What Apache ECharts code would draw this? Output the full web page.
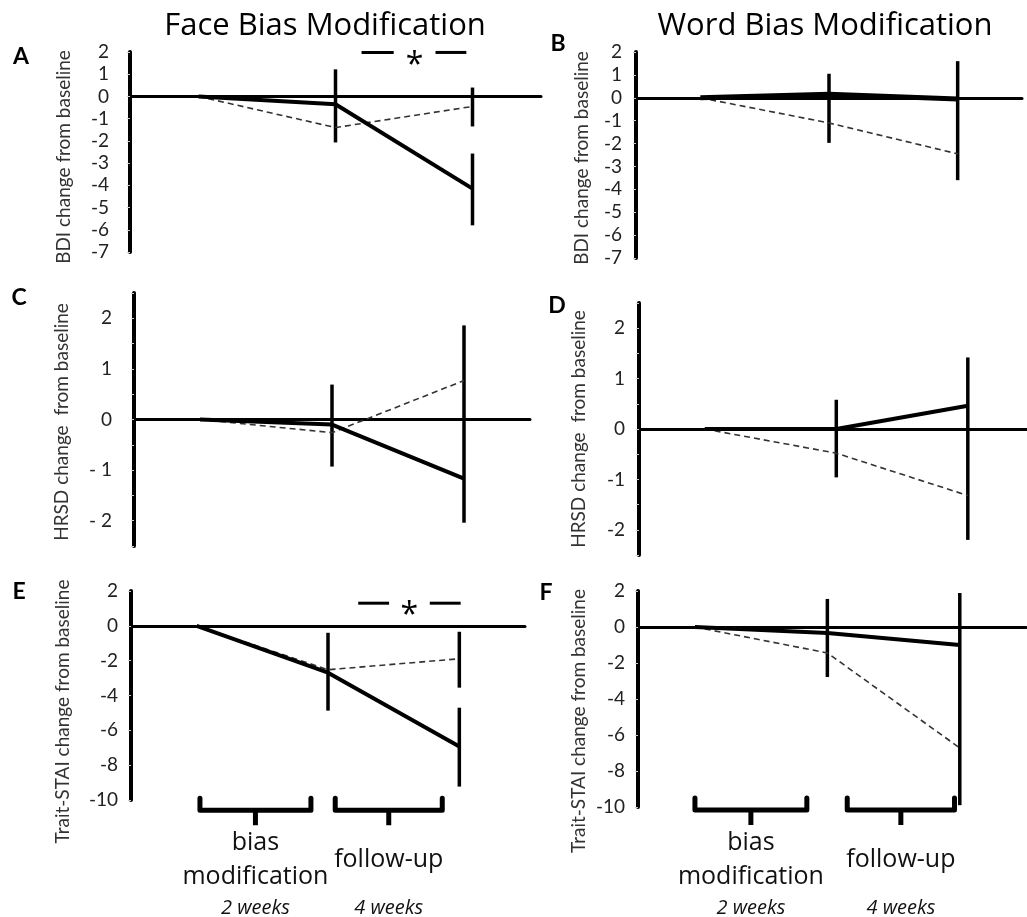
<!DOCTYPE html>
<html>
<head>
<meta charset="utf-8">
<script src="https://cdn.jsdelivr.net/npm/echarts@6/dist/echarts.min.js"></script>
<style>
  html, body { margin: 0; padding: 0; background: #fff; }
  #chart { width: 1027px; height: 917px; }
</style>
</head>
<body>
<div id="chart"></div>
<script>
// x positions: baseline, end of bias modification (2 weeks), end of follow-up (4 more weeks)
const timePoints = [0, 2, 4];

// A: BDI, face bias modification
const bdiFaceActive = [0, -0.35, -4.15];
const bdiFaceControl = [0, -1.4, -0.45];
const bdiFaceErr = [[2, -2.07, 1.22], [4, -1.35, 0.4], [4, -5.8, -2.57]];

// B: BDI, word bias modification
const bdiWordActive = [0, 0.15, -0.05];
const bdiWordControl = [0, -1.1, -2.45];
const bdiWordErr = [[2, -1.97, 1.05], [4, -3.6, 1.6]];

// C: HRSD, face
const hrsdFaceActive = [0, -0.1, -1.17];
const hrsdFaceControl = [0, -0.26, 0.77];
const hrsdFaceErr = [[2, -0.93, 0.69], [4, -2.04, 1.86]];

// D: HRSD, word
const hrsdWordActive = [0, 0, 0.46];
const hrsdWordControl = [0, -0.48, -1.32];
const hrsdWordErr = [[2, -0.96, 0.58], [4, -2.2, 1.42]];

// E: Trait-STAI, face
const staiFaceActive = [0, -2.69, -6.93];
const staiFaceControl = [0, -2.52, -1.89];
const staiFaceErr = [[2, -4.87, -0.4], [4, -3.55, -0.34], [4, -9.23, -4.7]];

// F: Trait-STAI, word
const staiWordActive = [0, -0.33, -1.0];
const staiWordControl = [0, -1.44, -6.72];
const staiWordErr = [[2, -2.78, 1.56], [4, -9.9, 1.89]];

// significance markers (dash spans in x, height in y)
const sigBdiFace = [[2.38, 2.85, 3.46, 3.91, 1.98]];
const sigStaiFace = [[2.46, 2.93, 3.55, 4.02, 1.3]];

// phase brackets under the bottom panels: [xStart, xEnd, yTop]
const phaseNames = ['bias\nmodification', 'follow-up'];
const phaseDurations = ['2 weeks', '4 weeks'];
const bracketsFace = [[0.05, 1.74, -9.9], [2.11, 3.74, -9.9]];
const bracketsWord = [[0, 1.69, -9.5], [2.3, 3.92, -9.5]];

const FONT = 'Lato, "Open Sans", sans-serif';
const FONT2 = '"Open Sans", Lato, sans-serif';

const panels = [
  { rect: { left: 130, top: 52, width: 411, height: 200 }, x: [-1, 5], y: [-7, 2], step: 1,
    name: 'BDI change from baseline', gap: 57, shift: 4, margin: 21, namePad: 10,
    active: bdiFaceActive, control: bdiFaceControl, err: bdiFaceErr, width: 4, sig: sigBdiFace },
  { rect: { left: 636, top: 52, width: 386, height: 206 }, x: [-1, 5], y: [-7, 2], step: 1,
    name: 'BDI change from baseline', gap: 45, shift: 7, margin: 14, namePad: 6,
    active: bdiWordActive, control: bdiWordControl, err: bdiWordErr, width: 5 },
  { rect: { left: 134, top: 293, width: 396, height: 253 }, x: [-1, 5], y: [-2.5, 2.5], step: 0.5,
    name: 'HRSD change  from baseline', gap: 63, shift: 11, margin: 22, namePad: 5, spaced: true,
    active: hrsdFaceActive, control: hrsdFaceControl, err: hrsdFaceErr, width: 4 },
  { rect: { left: 639, top: 303, width: 388, height: 252 }, x: [-1, 4.9], y: [-2.5, 2.5], step: 0.5,
    name: 'HRSD change  from baseline', gap: 51, shift: 11, margin: 14, namePad: 0,
    active: hrsdWordActive, control: hrsdWordControl, err: hrsdWordErr, width: 4 },
  { rect: { left: 131, top: 591, width: 394, height: 209 }, x: [-1, 5], y: [-10, 2], step: 2,
    name: 'Trait-STAI change from baseline', gap: 59, shift: 3, margin: 13, namePad: 32,
    active: staiFaceActive, control: staiFaceControl, err: staiFaceErr, width: 4,
    sig: sigStaiFace, brackets: bracketsFace },
  { rect: { left: 638, top: 591, width: 388, height: 216 }, x: [-0.86, 5], y: [-10, 2], step: 2,
    name: 'Trait-STAI change from baseline', gap: 50, shift: 4, margin: 13, namePad: 44,
    active: staiWordActive, control: staiWordControl, err: staiWordErr, width: 4, brackets: bracketsWord }
];

function pairs(vals) {
  return timePoints.map((t, i) => [t, vals[i]]);
}

function renderErr(params, api) {
  const a = api.coord([api.value(0), api.value(1)]);
  const b = api.coord([api.value(0), api.value(2)]);
  return {
    type: 'line',
    shape: { x1: a[0], y1: a[1], x2: b[0], y2: b[1] },
    style: { stroke: '#000', lineWidth: 3.5 }
  };
}

function renderSig(params, api) {
  const y = api.value(4);
  const p1 = api.coord([api.value(0), y]);
  const p2 = api.coord([api.value(1), y]);
  const p3 = api.coord([api.value(2), y]);
  const p4 = api.coord([api.value(3), y]);
  return {
    type: 'group',
    children: [
      { type: 'line', shape: { x1: p1[0], y1: p1[1], x2: p2[0], y2: p2[1] }, style: { stroke: '#000', lineWidth: 3 } },
      { type: 'line', shape: { x1: p3[0], y1: p3[1], x2: p4[0], y2: p4[1] }, style: { stroke: '#000', lineWidth: 3 } },
      { type: 'text', x: (p2[0] + p3[0]) / 2, y: p1[1] - 3,
        style: { text: '*', font: '32px ' + FONT2, fill: '#000', textAlign: 'center', textVerticalAlign: 'top' } }
    ]
  };
}

function renderBracket(params, api) {
  const i = params.dataIndex;
  const l = api.coord([api.value(0), api.value(2)]);
  const r = api.coord([api.value(1), api.value(2)]);
  const top = l[1];
  const bar = top + 12;
  const mid = (l[0] + r[0]) / 2;
  return {
    type: 'group',
    children: [
      { type: 'polyline', shape: { points: [[l[0], top], [l[0], bar], [r[0], bar], [r[0], top]] },
        style: { stroke: '#000', lineWidth: 5, fill: null, lineJoin: 'round', lineCap: 'round' } },
      { type: 'line', shape: { x1: mid, y1: bar, x2: mid, y2: bar + 15 },
        style: { stroke: '#000', lineWidth: 5 } },
      { type: 'text', x: mid, y: top + 62,
        style: { text: phaseNames[i], font: '25px ' + FONT2, fill: '#111', textAlign: 'center',
                 textVerticalAlign: 'middle', lineHeight: 34 } },
      { type: 'text', x: mid, y: top + 110,
        style: { text: phaseDurations[i], font: 'italic 20px ' + FONT2, fill: '#111', textAlign: 'center',
                 textVerticalAlign: 'middle' } }
    ]
  };
}

const grids = [], xAxes = [], yAxes = [], series = [];

panels.forEach((p, k) => {
  grids.push(p.rect);
  xAxes.push({
    type: 'value', gridIndex: k, min: p.x[0], max: p.x[1],
    axisLine: { show: true, onZero: true, lineStyle: { color: '#000', width: 3 } },
    axisTick: { show: false }, axisLabel: { show: false }, splitLine: { show: false }
  });
  yAxes.push({
    type: 'value', gridIndex: k, min: p.y[0], max: p.y[1], interval: p.step,
    name: p.name, nameLocation: 'middle', nameRotate: 90, nameGap: p.gap,
    nameTextStyle: { fontFamily: FONT, fontSize: 19, color: '#333', padding: [0, p.namePad, 0, 0] },
    axisLine: { show: true, onZero: false, lineStyle: { color: '#000', width: 4 } },
    axisTick: { show: true, length: 3, lineStyle: { color: '#ccc', width: 1 } },
    splitLine: { show: false },
    axisLabel: {
      fontFamily: FONT, fontSize: 19, color: '#222', margin: p.margin,
      padding: [p.shift * 2, 0, 0, 0],
      formatter: v => {
        if (!Number.isInteger(v)) return '';
        if (p.spaced && v < 0) return '- ' + (-v);
        return String(v);
      }
    }
  });
  series.push({
    type: 'custom', xAxisIndex: k, yAxisIndex: k, renderItem: renderErr,
    data: p.err, silent: true, z: 3
  });
  series.push({
    type: 'line', xAxisIndex: k, yAxisIndex: k, data: pairs(p.control),
    symbol: 'none', silent: true, z: 4,
    lineStyle: { color: '#333', width: 1.6, type: [6, 4] }
  });
  series.push({
    type: 'line', xAxisIndex: k, yAxisIndex: k, data: pairs(p.active),
    symbol: 'none', silent: true, z: 5,
    lineStyle: { color: '#000', width: p.width }
  });
  if (p.sig) {
    series.push({ type: 'custom', xAxisIndex: k, yAxisIndex: k, renderItem: renderSig, data: p.sig, silent: true, z: 5 });
  }
  if (p.brackets) {
    series.push({ type: 'custom', xAxisIndex: k, yAxisIndex: k, renderItem: renderBracket, data: p.brackets, silent: true, z: 5 });
  }
});

const letterStyle = { font: 'bold 23px ' + FONT, fill: '#000', textAlign: 'center', textVerticalAlign: 'middle' };
const titleStyle = { font: '31px ' + FONT2, fill: '#000', textAlign: 'center', textVerticalAlign: 'middle' };

const chart = echarts.init(document.getElementById('chart'));
chart.setOption({
  backgroundColor: '#fff',
  animation: false,
  grid: grids,
  xAxis: xAxes,
  yAxis: yAxes,
  series: series,
  graphic: [
    { type: 'text', x: 325, y: 26, style: Object.assign({ text: 'Face Bias Modification' }, titleStyle) },
    { type: 'text', x: 825, y: 26, style: Object.assign({ text: 'Word Bias Modification' }, titleStyle) },
    { type: 'text', x: 21, y: 57, style: Object.assign({ text: 'A' }, letterStyle) },
    { type: 'text', x: 558, y: 44, style: Object.assign({ text: 'B' }, letterStyle) },
    { type: 'text', x: 19, y: 298, style: Object.assign({ text: 'C' }, letterStyle) },
    { type: 'text', x: 557, y: 306, style: Object.assign({ text: 'D' }, letterStyle) },
    { type: 'text', x: 19, y: 592, style: Object.assign({ text: 'E' }, letterStyle) },
    { type: 'text', x: 546, y: 593, style: Object.assign({ text: 'F' }, letterStyle) }
  ]
});
</script>
</body>
</html>
